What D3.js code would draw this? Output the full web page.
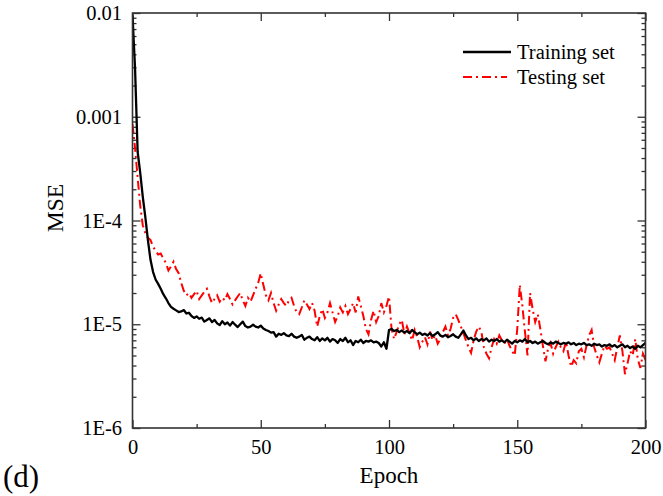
<!DOCTYPE html>
<html><head><meta charset="utf-8">
<script src="https://cdn.jsdelivr.net/npm/d3@7"></script>
<style>body{margin:0;background:#fff;} text{font-family:"Liberation Serif","Times New Roman",serif;}</style>
</head><body>
<script>
const epochs = d3.range(0, 201);
const trainMSE = [
9.5e-3,2.9e-3,4.6e-4,2.9e-4,1.7e-4,1.08e-4,6.5e-5,4.2e-5,3.2e-5,2.7e-5,
2.45e-5,2.2e-5,1.95e-5,1.78e-5,1.6e-5,1.47e-5,1.41e-5,1.36e-5,1.31e-5,1.33e-5,
1.37e-5,1.27e-5,1.29e-5,1.2e-5,1.15e-5,1.19e-5,1.13e-5,1.16e-5,1.06e-5,1.1e-5,
1.14e-5,1.05e-5,1.1e-5,1.02e-5,9.8e-6,1.07e-5,1.0e-5,1.04e-5,9.7e-6,1.05e-5,
9.9e-6,9.4e-6,1.0e-5,1.06e-5,9.6e-6,9.3e-6,9.5e-6,9.9e-6,9.5e-6,9.3e-6,
9.7e-6,9.1e-6,8.8e-6,8.6e-6,8.3e-6,8.4e-6,7.6e-6,8.1e-6,7.9e-6,8.2e-6,
7.8e-6,7.7e-6,8.1e-6,7.6e-6,7.4e-6,7.6e-6,7.9e-6,7.1e-6,7.4e-6,7.6e-6,
7.2e-6,7.0e-6,7.5e-6,6.9e-6,7.3e-6,7.0e-6,7.4e-6,6.8e-6,7.2e-6,7.0e-6,
6.6e-6,7.2e-6,6.9e-6,7.4e-6,6.7e-6,7.0e-6,6.3e-6,6.9e-6,6.7e-6,7.1e-6,
6.6e-6,6.9e-6,6.8e-6,7.0e-6,6.7e-6,6.8e-6,6.6e-6,6.1e-6,6.7e-6,5.8e-6,
8.8e-6,9.0e-6,8.6e-6,8.8e-6,8.4e-6,8.7e-6,8.3e-6,8.6e-6,8.2e-6,8.8e-6,
8.4e-6,8.0e-6,8.3e-6,7.9e-6,8.1e-6,7.8e-6,8.2e-6,7.7e-6,8.0e-6,8.4e-6,
7.8e-6,7.6e-6,7.9e-6,7.5e-6,7.7e-6,8.0e-6,7.6e-6,7.4e-6,8.0e-6,8.7e-6,
7.8e-6,7.2e-6,7.4e-6,7.0e-6,7.3e-6,6.9e-6,7.2e-6,7.0e-6,7.3e-6,6.8e-6,
7.1e-6,6.9e-6,7.2e-6,6.8e-6,7.0e-6,6.7e-6,7.1e-6,6.8e-6,6.5e-6,6.9e-6,
6.7e-6,7.0e-6,6.8e-6,7.2e-6,6.7e-6,6.9e-6,6.6e-6,6.8e-6,6.5e-6,6.7e-6,
6.9e-6,6.6e-6,6.4e-6,6.7e-6,6.5e-6,6.8e-6,6.6e-6,6.4e-6,6.6e-6,6.5e-6,
6.7e-6,6.4e-6,6.6e-6,6.3e-6,6.5e-6,6.4e-6,6.6e-6,6.3e-6,6.4e-6,6.2e-6,
6.5e-6,6.3e-6,6.4e-6,6.1e-6,6.3e-6,6.2e-6,6.4e-6,6.1e-6,6.3e-6,6.0e-6,
6.2e-6,6.4e-6,6.0e-6,6.2e-6,5.9e-6,6.1e-6,5.8e-6,6.2e-6,6.0e-6,6.3e-6,
6.6e-6];
const testMSE = [
8.5e-4,5.0e-4,2.6e-4,1.4e-4,9.0e-5,7.6e-5,6.8e-5,6.5e-5,5.6e-5,5.1e-5,
4.7e-5,4.8e-5,4.3e-5,3.9e-5,3.3e-5,3.6e-5,4.0e-5,3.4e-5,3.1e-5,2.5e-5,
2.1e-5,1.9e-5,2.0e-5,1.8e-5,1.95e-5,2.1e-5,1.75e-5,1.9e-5,2.05e-5,2.2e-5,
1.85e-5,1.6e-5,1.75e-5,1.9e-5,1.65e-5,1.8e-5,1.7e-5,1.95e-5,1.75e-5,1.55e-5,
1.7e-5,1.85e-5,2.0e-5,1.7e-5,1.5e-5,1.8e-5,1.65e-5,1.9e-5,2.2e-5,2.5e-5,
3.1e-5,2.4e-5,1.9e-5,1.7e-5,2.0e-5,1.6e-5,1.35e-5,1.55e-5,1.75e-5,1.6e-5,
1.5e-5,1.7e-5,1.8e-5,1.5e-5,1.3e-5,1.25e-5,1.45e-5,1.7e-5,1.55e-5,1.4e-5,
1.6e-5,1.35e-5,9.5e-6,1.2e-5,1.4e-5,1.15e-5,1.3e-5,1.6e-5,1.3e-5,1.05e-5,
1.2e-5,1.45e-5,1.3e-5,1.5e-5,1.25e-5,1.4e-5,1.6e-5,1.3e-5,1.85e-5,1.5e-5,
1.2e-5,9.0e-6,8.0e-6,1.1e-5,1.35e-5,1.05e-5,1.2e-5,1.6e-5,1.3e-5,1.5e-5,
1.85e-5,9.0e-6,7.2e-6,8.5e-6,1.0e-5,1.1e-5,8.0e-6,9.5e-6,8.2e-6,7.0e-6,
8.8e-6,7.5e-6,6.0e-6,6.8e-6,7.5e-6,6.4e-6,8.5e-6,7.0e-6,7.8e-6,6.5e-6,
7.2e-6,8.4e-6,9.5e-6,7.8e-6,9.0e-6,1.15e-5,1.25e-5,1.1e-5,9.5e-6,8.2e-6,
7.0e-6,6.0e-6,5.3e-6,7.0e-6,8.5e-6,9.5e-6,8.5e-6,6.0e-6,5.2e-6,4.7e-6,
6.0e-6,7.2e-6,6.5e-6,7.8e-6,7.0e-6,6.5e-6,7.2e-6,6.2e-6,5.5e-6,5.0e-6,
9.0e-6,2.4e-5,1.5e-5,8.5e-6,5.0e-6,2.0e-5,1.4e-5,1.05e-5,1.25e-5,9.0e-6,
6.2e-6,4.4e-6,5.8e-6,6.6e-6,5.2e-6,6.0e-6,6.8e-6,6.0e-6,5.5e-6,6.8e-6,
5.0e-6,3.9e-6,4.5e-6,4.2e-6,5.5e-6,5.8e-6,4.8e-6,6.2e-6,7.8e-6,8.8e-6,
6.0e-6,5.0e-6,4.3e-6,5.2e-6,6.2e-6,5.8e-6,6.0e-6,5.2e-6,4.5e-6,6.0e-6,
7.8e-6,5.5e-6,3.3e-6,4.2e-6,5.5e-6,5.0e-6,7.2e-6,4.6e-6,3.8e-6,5.2e-6,
4.5e-6];
const xMajorTicks = [0, 50, 100, 150, 200];
const xMinorTicks = [25, 75, 125, 175];
const yMajorTicks = [1e-6, 1e-5, 1e-4, 1e-3, 1e-2];
const yTickLabels = ["1E-6", "1E-5", "1E-4", "0.001", "0.01"];
const seriesNames = ["Training set", "Testing set"];

const W = 663, H = 496;
const L = 132.5, R = 645.5, T = 13, B = 428;
const svg = d3.select("body").append("svg").attr("width", W).attr("height", H);
const x = d3.scaleLinear().domain([0, 200]).range([L, R]);
const y = d3.scaleLog().domain([1e-6, 1e-2]).range([B, T]);

svg.append("defs").append("clipPath").attr("id", "clip")
  .append("rect").attr("x", L).attr("y", T).attr("width", R - L).attr("height", B - T);

const yMinor = [];
[1e-6, 1e-5, 1e-4, 1e-3].forEach(d => { for (let k = 2; k <= 9; k++) yMinor.push(d * k); });

const tickStroke = "#333";
const xb = svg.append("g").attr("transform", `translate(0,${B})`)
  .call(d3.axisBottom(x).tickValues(xMajorTicks).tickSize(-8).tickPadding(11).tickFormat(d3.format("d")));
const xbm = svg.append("g").attr("transform", `translate(0,${B})`)
  .call(d3.axisBottom(x).tickValues(xMinorTicks).tickSize(-4).tickFormat(""));
const xt = svg.append("g").attr("transform", `translate(0,${T})`)
  .call(d3.axisTop(x).tickValues(xMajorTicks).tickSize(-8).tickFormat(""));
const xtm = svg.append("g").attr("transform", `translate(0,${T})`)
  .call(d3.axisTop(x).tickValues(xMinorTicks).tickSize(-4).tickFormat(""));
const yl = svg.append("g").attr("transform", `translate(${L},0)`)
  .call(d3.axisLeft(y).tickValues(yMajorTicks).tickSize(-8).tickPadding(10.5).tickFormat((d, i) => yTickLabels[i]));
const ylm = svg.append("g").attr("transform", `translate(${L},0)`)
  .call(d3.axisLeft(y).tickValues(yMinor).tickSize(-4).tickFormat(""));
const yr = svg.append("g").attr("transform", `translate(${R},0)`)
  .call(d3.axisRight(y).tickValues(yMajorTicks).tickSize(-8).tickFormat(""));
const yrm = svg.append("g").attr("transform", `translate(${R},0)`)
  .call(d3.axisRight(y).tickValues(yMinor).tickSize(-4).tickFormat(""));
[xb, xbm, xt, xtm, yl, ylm, yr, yrm].forEach(g => {
  g.select(".domain").remove();
  g.selectAll("line").attr("stroke", tickStroke).attr("stroke-width", 1.3);
  g.selectAll("text").attr("font-size", 20.5).attr("fill", "#000")
    .style("font-family", '"Liberation Serif","Times New Roman",serif');
});

const gLines = svg.append("g").attr("clip-path", "url(#clip)");
const line = d3.line().x((d, i) => x(epochs[i])).y(d => y(d));
gLines.append("path").datum(testMSE).attr("d", line)
  .attr("fill", "none").attr("stroke", "#ff0000").attr("stroke-width", 2)
  .attr("stroke-dasharray", "9,4,2,4");
gLines.append("path").datum(trainMSE).attr("d", line)
  .attr("fill", "none").attr("stroke", "#000").attr("stroke-width", 2.3)
  .attr("stroke-linejoin", "round");

svg.append("rect").attr("x", L).attr("y", T).attr("width", R - L).attr("height", B - T)
  .attr("fill", "none").attr("stroke", "#333").attr("stroke-width", 1.6);

svg.append("text").attr("x", (L + R) / 2).attr("y", 483).attr("text-anchor", "middle")
  .attr("font-size", 23).text("Epoch");
svg.append("text").attr("transform", `translate(63,208) rotate(-90)`)
  .attr("text-anchor", "middle").attr("font-size", 23.5).text("MSE");
svg.append("text").attr("x", 3).attr("y", 487).attr("font-size", 31).text("(d)");

const leg = svg.append("g");
leg.append("line").attr("x1", 463).attr("x2", 511).attr("y1", 52).attr("y2", 52)
  .attr("stroke", "#000").attr("stroke-width", 2.3);
leg.append("text").attr("x", 517).attr("y", 58.5).attr("font-size", 20.5).text(seriesNames[0]);
leg.append("line").attr("x1", 463).attr("x2", 507).attr("y1", 77).attr("y2", 77)
  .attr("stroke", "#ff0000").attr("stroke-width", 2).attr("stroke-dasharray", "9,4,2,4");
leg.append("text").attr("x", 517).attr("y", 83.5).attr("font-size", 20.5).text(seriesNames[1]);
</script>
</body></html>
